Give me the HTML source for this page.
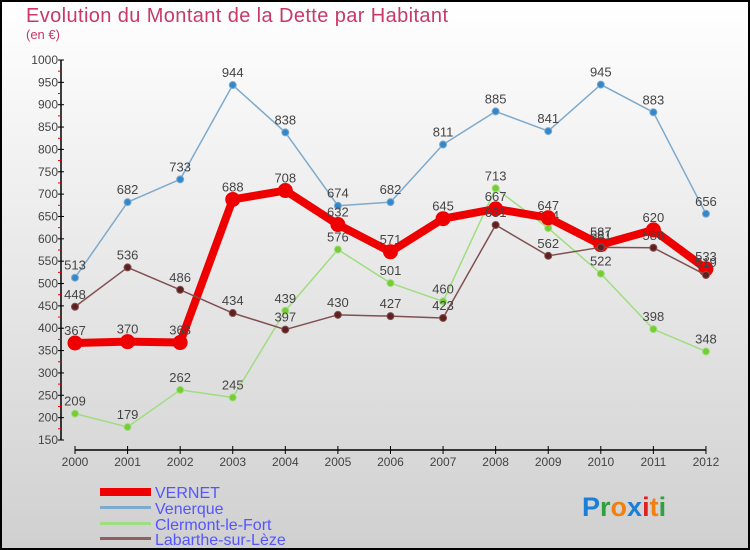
<!DOCTYPE html>
<html><head><meta charset="utf-8"><style>
body{margin:0;}
svg{display:block;font-family:"Liberation Sans",sans-serif;}
</style></head><body>
<svg id="chart" width="750" height="550" viewBox="0 0 750 550">
<defs><linearGradient id="bg" x1="0" y1="0" x2="0" y2="1"><stop offset="0" stop-color="#ffffff"/><stop offset="1" stop-color="#d0d0d0"/></linearGradient></defs>
<rect x="1" y="1" width="748" height="548" fill="url(#bg)" stroke="#000" stroke-width="2"/>
<text x="26" y="22" font-size="20" fill="#c8386a" textLength="422">Evolution du Montant de la Dette par Habitant</text>
<text x="26" y="39" font-size="13" fill="#c8386a">(en €)</text>
<g id="axes"></g>
<g id="series"></g>
<g>
<rect x="100" y="488" width="51" height="8" fill="#ee0000"/>
<text x="155" y="498" font-size="16" fill="#5555ff">VERNET</text>
<rect x="100" y="506" width="51" height="3" fill="#7eaacc"/>
<text x="155" y="514" font-size="16" fill="#5555ff">Venerque</text>
<rect x="100" y="522" width="51" height="3" fill="#a0dd80"/>
<text x="155" y="530" font-size="16" fill="#5555ff">Clermont-le-Fort</text>
<rect x="100" y="537" width="51" height="3" fill="#906060"/>
<text x="155" y="545" font-size="16" fill="#5555ff">Labarthe-sur-Lèze</text>
</g>
<g font-size="27" font-weight="bold">
<text x="582" y="516"><tspan fill="#1a7fd8">P</tspan><tspan fill="#30a040">r</tspan><tspan fill="#f08010">o</tspan><tspan fill="#1a7fd8">x</tspan><tspan fill="#e02020">i</tspan><tspan fill="#f08010">t</tspan><tspan fill="#30a040">i</tspan></text>
</g>
</svg>
<script>
const years=["2000","2001","2002","2003","2004","2005","2006","2007","2008","2009","2010","2011","2012"];
const vernet=[367,370,368,688,708,632,571,645,667,647,587,620,533];
const venerque=[513,682,733,944,838,674,682,811,885,841,945,883,656];
const clermont=[209,179,262,245,439,576,501,460,713,624,522,398,348];
const labarthe=[448,536,486,434,397,430,427,423,631,562,581,580,519];
const yTicks=[150,200,250,300,350,400,450,500,550,600,650,700,750,800,850,900,950,1000];
const NS="http://www.w3.org/2000/svg";
const x=i=>75+i*52.58;
const y=v=>60+(1000-v)*380/850;
function mk(t,a,p){const e=document.createElementNS(NS,t);for(const k in a)e.setAttribute(k,a[k]);p.appendChild(e);return e;}
const ax=document.getElementById('axes');
let l=mk('line',{x1:61,y1:60,x2:61,y2:440,stroke:'#000','stroke-width':1.5},ax);


l=mk('line',{x1:x(0),y1:450,x2:x(years.length-1),y2:450,stroke:'#000','stroke-width':1.5},ax);


yTicks.forEach(v=>{
 mk('line',{x1:58,y1:y(v),x2:64,y2:y(v),stroke:'#000'},ax);
 if(v<1000)mk('line',{x1:58,y1:y(v+25),x2:61,y2:y(v+25),stroke:'#e00'},ax);
 const t=mk('text',{x:58,y:y(v)+4,'font-size':12,'text-anchor':'end',fill:'#444'},ax);t.textContent=v;
 
 
});
years.forEach((yr,i)=>{
 mk('line',{x1:x(i),y1:446,x2:x(i),y2:454,stroke:'#000'},ax);
 const t=mk('text',{x:x(i),y:466,'font-size':12,'text-anchor':'middle',fill:'#444'},ax);t.textContent=yr;
 
 
});
const sg=document.getElementById('series');
function series(d,name,col,w,r,dot){
 const g=mk('g',{},sg);
 
 
 const p=mk('polyline',{points:d.map((v,i)=>x(i)+','+y(v)).join(' '),fill:'none',stroke:col,'stroke-width':w,'stroke-linejoin':'round'},g);
 
 
 d.forEach((v,i)=>{
  const c=mk('circle',{cx:x(i),cy:y(v),r:r,fill:dot,stroke:col,'stroke-width':1},g);
  
  
  const t=mk('text',{x:x(i),y:y(v)-8,'font-size':13,'text-anchor':'middle',fill:'#444'},g);t.textContent=v;
  
  
 });
}
series(clermont,'clermont-le-fort','#a0dd80',1.5,3.5,'#77cc33');
series(venerque,'venerque','#7eaacc',1.5,3.5,'#3388cc');
series(vernet,'vernet','#ee0000',8,7,'#ee0000');
series(labarthe,'labarthe-sur-leze','#805050',1.5,3.5,'#602020');
</script>
</body></html>
